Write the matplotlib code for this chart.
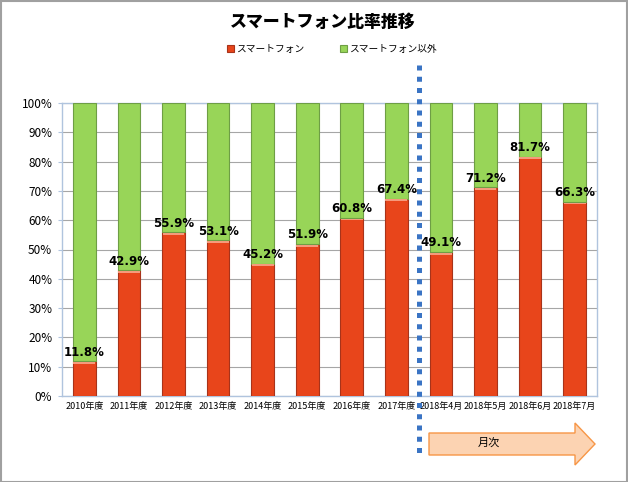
import matplotlib
matplotlib.use('Agg')
import matplotlib.pyplot as plt
import matplotlib.ticker as ticker
import matplotlib.transforms as mtransforms
from matplotlib.patches import Polygon, Rectangle
import numpy as np

plt.rcParams['font.family'] = ['Noto Sans CJK JP', 'DejaVu Sans']

categories = ['2010年度', '2011年度', '2012年度', '2013年度', '2014年度', '2015年度',
              '2016年度', '2017年度', '2018年4月', '2018年5月', '2018年6月', '2018年7月']
smartphone = [11.8, 42.9, 55.9, 53.1, 45.2, 51.9, 60.8, 67.4, 49.1, 71.2, 81.7, 66.3]
other = [100 - v for v in smartphone]

W, H = 628, 482
fig = plt.figure(figsize=(W / 100, H / 100), dpi=100)
ax = fig.add_axes([62 / W, 1 - 396 / H, (597 - 62) / W, (396 - 103) / H])

x = np.arange(len(categories))
red = '#E8451B'
green = '#98D558'
ax.bar(x, smartphone, width=0.51, color=red, edgecolor='#A8331A', linewidth=0.8,
       label='スマートフォン', zorder=3)
ax.bar(x, other, width=0.51, bottom=smartphone, color=green, edgecolor='#6E9E45',
       linewidth=0.8, label='スマートフォン以外', zorder=3)
# light band on top of the red part
ax.bar(x, 0.6, width=0.49, bottom=[v - 0.9 for v in smartphone], color='#F59A7C',
       linewidth=0, zorder=4)

for xi, v in zip(x, smartphone):
    ax.text(xi, v + 0.9, f'{v:.1f}%', ha='center', va='bottom', fontsize=8.5,
            fontweight='heavy', family=['DejaVu Sans'], zorder=5)

ax.set_xlim(-0.5, 11.5)
ax.set_ylim(0, 100)
ax.yaxis.set_major_locator(ticker.MultipleLocator(10))
ax.yaxis.set_major_formatter(ticker.FuncFormatter(lambda v, p: f'{v:.0f}%'))
ax.set_xticks(x)
ax.set_xticklabels(categories, fontsize=6.5)
ax.tick_params(axis='y', labelsize=8.5, length=3, color='#B0C4DE', pad=4)
ax.tick_params(axis='x', length=0, pad=4)
ax.grid(axis='y', color='#A6A6A6', linewidth=0.8, zorder=0)
for s in ax.spines.values():
    s.set_color('#B0C4DE')
    s.set_linewidth(1.0)

# dotted divider between yearly and monthly data
trans = mtransforms.blended_transform_factory(ax.transData, ax.transAxes)
ax.plot([7.5, 7.5], [1.13, -0.20], transform=trans, clip_on=False, color='#3A74C4',
        linewidth=3.6, dashes=(1, 1.25), solid_capstyle='butt', dash_capstyle='butt', zorder=6)

# title and legend
fig.text(323 / W, 1 - 22 / H, 'スマートフォン比率推移', ha='center', va='center',
         fontsize=12.2, fontweight='heavy')
fig.legend(loc='center', bbox_to_anchor=(332 / W, 1 - 49 / H), ncol=2, frameon=False,
           fontsize=7, handlelength=0.7, handleheight=0.7, handletextpad=0.25,
           columnspacing=3.6)

# arrow "月次"
def px(xp, yp):
    return (xp / W, 1 - yp / H)

arrow_pts = [px(429, 433), px(575, 433), px(575, 423), px(595, 444),
             px(575, 465), px(575, 455), px(429, 455)]
fig.patches.append(Polygon(arrow_pts, closed=True, transform=fig.transFigure,
                           facecolor='#FCD3B2', edgecolor='#F79646', linewidth=1.0))
fig.text(489 / W, 1 - 443 / H, '月次', ha='center', va='center', fontsize=8)

# figure frame
fig.patches.append(Rectangle((0.001, 0.001), 0.997, 0.997, transform=fig.transFigure,
                             fill=False, edgecolor='#A0A0A0', linewidth=1.5))

fig.savefig('out.png', dpi=100)
